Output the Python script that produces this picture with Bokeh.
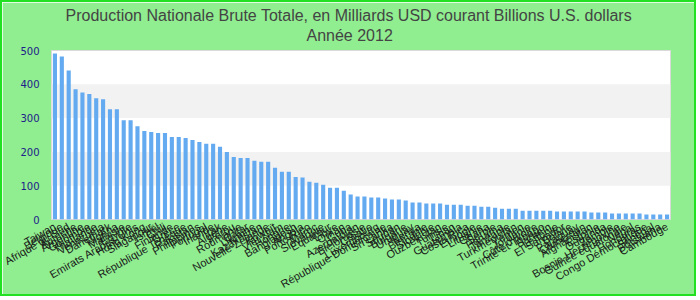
from bokeh.plotting import figure
from bokeh.models import FactorRange, Range1d, FixedTicker, BoxAnnotation, Title
from bokeh.embed import file_html
from bokeh.resources import INLINE

countries = [
    "Taiwan", "Belgique", "Afrique du Sud", "Autriche", "Argentine", "Colombie",
    "Thaïlande", "Venezuela", "Danemark", "Nigéria", "Malaisie", "Egypte",
    "Emirats Arabes Unis", "Hong Kong", "Singapour", "Israël", "Chili", "Finlande",
    "Grèce", "République Tchèque", "Pakistan", "Philippines", "Portugal", "Irlande",
    "Irak", "Algérie", "Pérou", "Roumanie", "Qatar", "Ukraine",
    "Kazakhstan", "Nouvelle-Zélande", "Koweït", "Viêt Nam", "Hongrie", "Bangladesh",
    "Angola", "Porto Rico", "Maroc", "Slovaquie", "Equateur", "Libye",
    "Oman", "Cuba", "Azerbaïdjan", "Biélorussie", "Croatie", "Luxembourg",
    "République Dominicaine", "Sri Lanka", "Soudan", "Bulgarie", "Uruguay", "Kenya",
    "Birmanie", "Slovénie", "Ouzbékistan", "Tunisie", "Liban", "Guatemala",
    "Costa Rica", "Ethiopie", "Lituanie", "Ghana", "Serbie", "Panama",
    "Tanzanie", "Turkménistan", "Yémen", "Jordanie", "Côte d'Ivoire", "Trinité-et-Tobago",
    "Bahreïn", "Lettonie", "El Salvador", "Bolivie", "Paraguay", "Cameroun",
    "Afghanistan", "Estonie", "Ouganda", "Zambie", "Bosnie-Herzégovine", "Guinée équatoriale",
    "Népal", "Honduras", "Congo Démocratique", "Sénégal", "Botswana", "Cambodge",
]

values = [
    491, 482, 441, 385, 376, 371, 359, 356, 326, 326,
    294, 294, 276, 262, 259, 256, 256, 244, 244, 241,
    235, 229, 224, 224, 215, 200, 185, 182, 182, 174,
    171, 171, 153, 141, 141, 126, 124, 112, 109, 103,
    94, 94, 85, 74, 68, 68, 65, 65, 62, 59,
    59, 56, 50, 50, 47, 47, 47, 44, 44, 44,
    41, 41, 38, 38, 35, 32, 32, 32, 26, 26,
    26, 26, 26, 24, 24, 24, 24, 24, 21, 21,
    21, 18, 18, 18, 18, 18, 15, 15, 15, 15,
]

y_ticks = [0, 100, 200, 300, 400, 500]
title_main = "Production Nationale Brute Totale, en Milliards USD courant Billions U.S. dollars"
title_sub = "Année 2012"

title_font = "Liberation Sans"

p = figure(
    width=696, height=296,
    x_range=FactorRange(factors=countries),
    y_range=Range1d(y_ticks[0], y_ticks[-1]),
    output_backend="svg", toolbar_location=None,
    min_border_left=49, min_border_right=28, min_border_top=48, min_border_bottom=78,
    background_fill_color="white", border_fill_color="#90ee90",
    outline_line_color="#d9d9d9", outline_line_width=1,
)
p.styles = {"border": "2px solid #22e022"}

for i in range(1, len(y_ticks) - 1, 2):
    p.add_layout(BoxAnnotation(bottom=y_ticks[i], top=y_ticks[i + 1],
                               fill_color="#f2f2f2", fill_alpha=1.0, line_color=None,
                               level="underlay"))

p.vbar(x=countries, top=values, width=0.6, color="#64aaf0", line_color=None)

# small spacer between the frame and the sub-title
p.add_layout(Title(text=" ", text_font_size="3px", standoff=0), "above")
p.add_layout(Title(text=title_sub, align="left", text_font=title_font, standoff=3, offset=255,
                   text_font_size="16px", text_font_style="normal", text_color="#444444"), "above")
p.add_layout(Title(text=title_main, align="left", text_font=title_font, standoff=0, offset=14,
                   text_font_size="16px", text_font_style="normal", text_color="#444444"), "above")

p.xgrid.visible = False
p.ygrid.visible = False

p.yaxis.ticker = FixedTicker(ticks=y_ticks)
p.yaxis.axis_line_color = None
p.yaxis.major_tick_line_color = None
p.yaxis.minor_tick_line_color = None
p.yaxis.major_tick_out = 0
p.yaxis.major_tick_in = 0
p.yaxis.major_label_text_font = "DejaVu Sans"
p.yaxis.major_label_text_font_size = "10px"
p.yaxis.major_label_text_color = "#20208a"
p.yaxis.major_label_standoff = 12

p.xaxis.axis_line_color = None
p.xaxis.major_tick_line_color = None
p.xaxis.minor_tick_line_color = None
p.xaxis.major_tick_out = 0
p.xaxis.major_tick_in = 0
p.xaxis.major_label_orientation = 0.52
p.xaxis.major_label_standoff = 6
p.xaxis.major_label_text_font = "Liberation Sans"
p.xaxis.major_label_text_font_size = "11px"
p.xaxis.major_label_text_color = "#1a1a1a"

open("out.html", "w").write(file_html(p, INLINE))
